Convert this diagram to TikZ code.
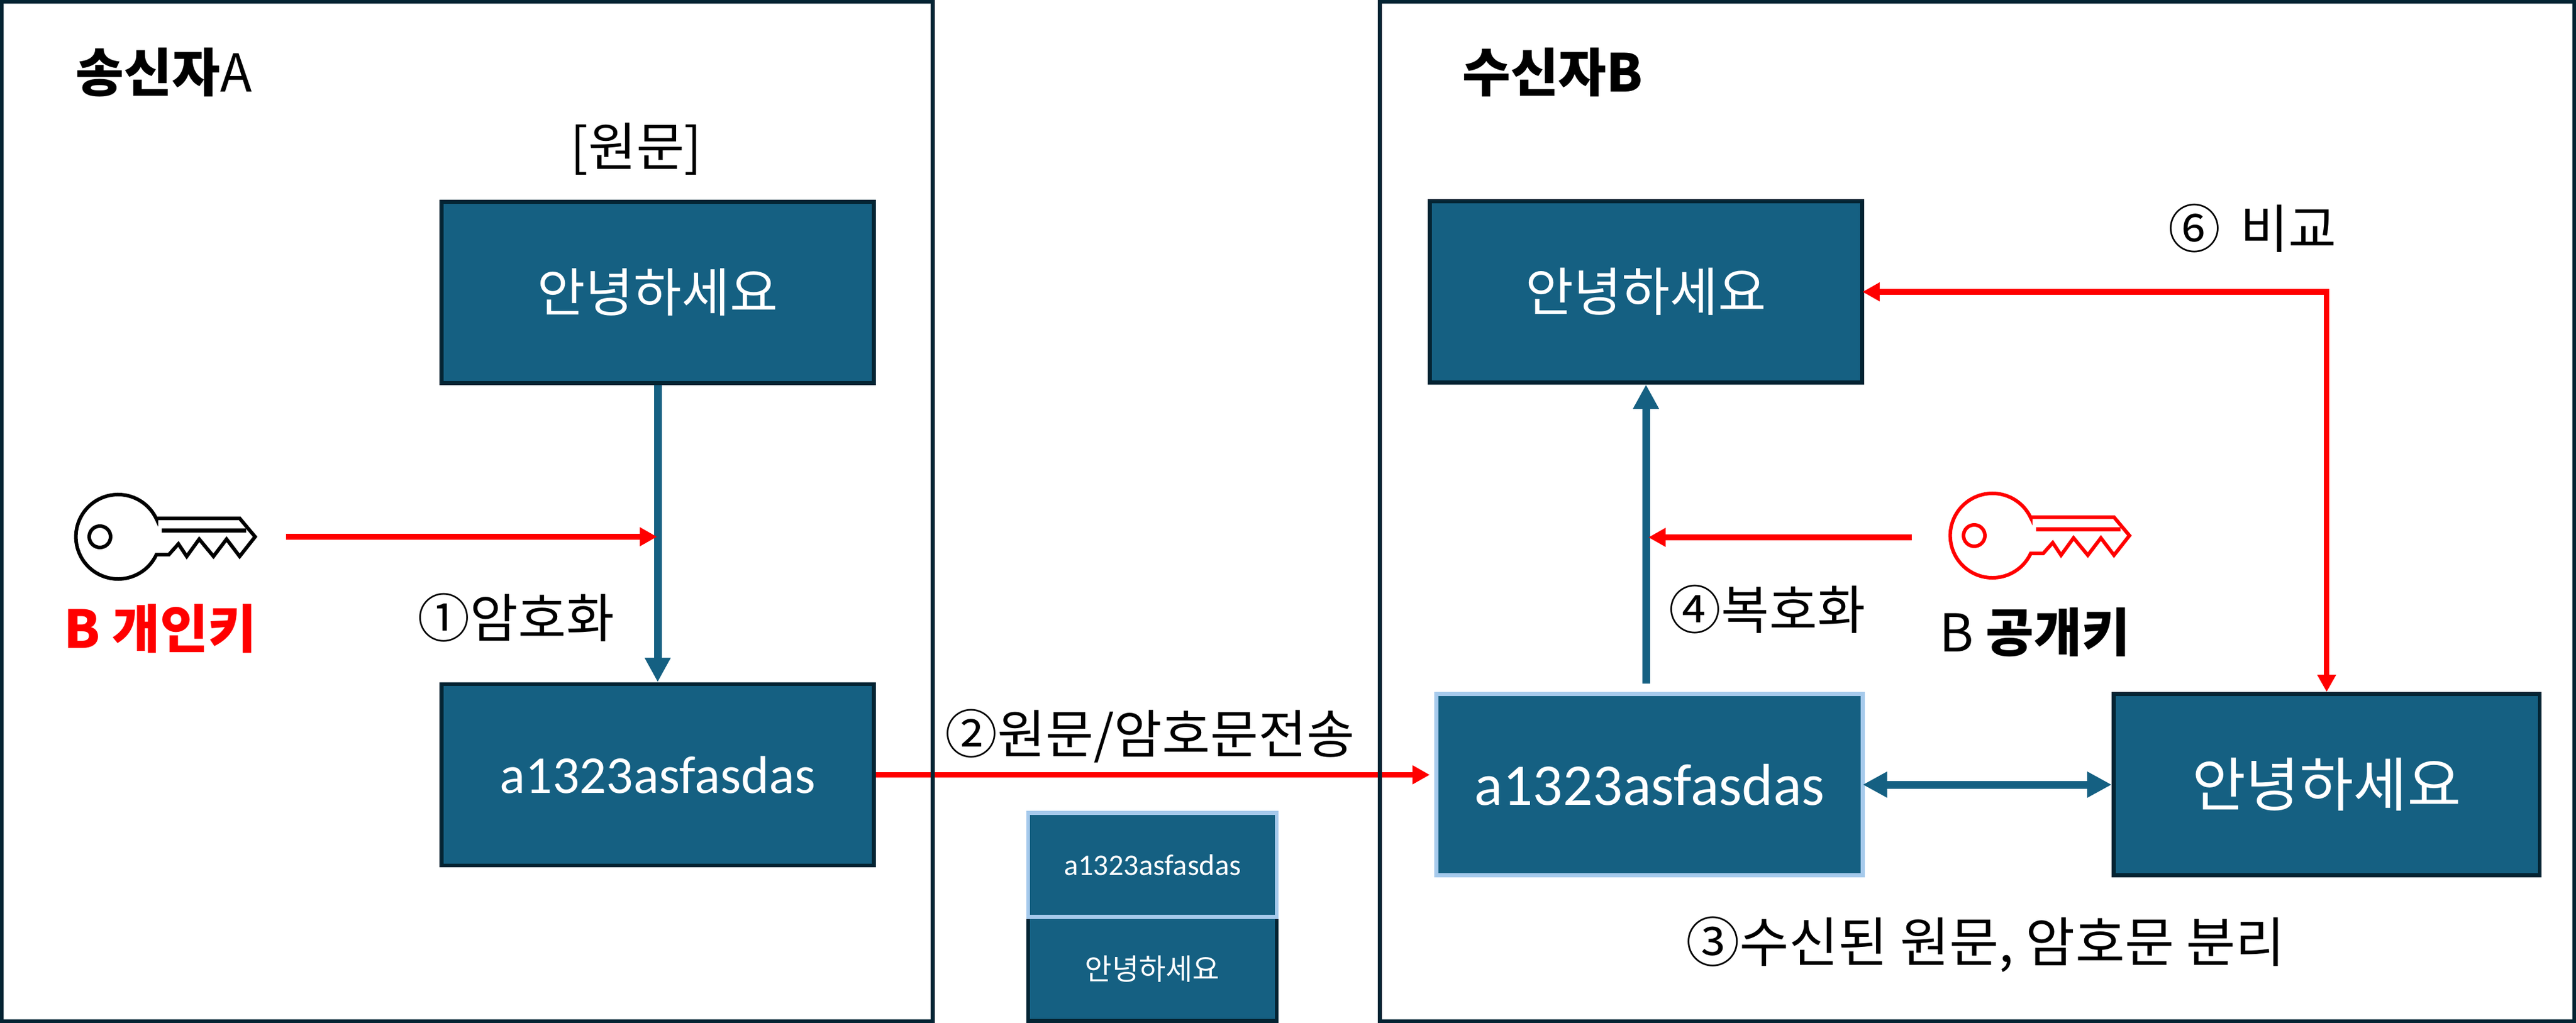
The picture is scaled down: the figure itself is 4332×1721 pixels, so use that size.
\documentclass[tikz,border=0pt]{standalone}
\usepackage{fontspec}
\setmainfont{Noto Sans CJK KR}
\newfontfamily\cipherfont{Carlito}
\usetikzlibrary{arrows.meta}
\definecolor{boxfill}{HTML}{156082}
\definecolor{boxline}{HTML}{042433}
\definecolor{boxlight}{HTML}{A6CAEC}
\tikzset{
  msgbox/.style = {draw=boxline, fill=boxfill, text=white, line width=0.067cm, minimum width=7.27cm, minimum height=3.05cm, inner sep=0pt, font=\fontsize{25}{30}\selectfont},
  lightbox/.style = {msgbox, draw=boxlight},
  bigtext/.style = {font=\fontsize{28}{34}\selectfont, minimum width=7.16cm},
  smalltext/.style = {font=\fontsize{14}{17}\selectfont, minimum width=4.18cm, minimum height=1.75cm},
  frame/.style = {draw=boxline, line width=0.067cm, inner sep=0pt},
  label/.style = {inner sep=0pt, font=\fontsize{25}{30}\selectfont},
  redline/.style = {red, line width=0.095cm, -{Triangle[length=0.29cm, width=0.3cm]}},
  tealline/.style = {boxfill, line width=0.13cm, -{Triangle[length=0.41cm, width=0.41cm]}},
  keyicon/.pic = {
    \draw[line width=0.06cm, miter limit=10] (63,-31) -- (203,-31) -- (229,0) -- (203,33) -- (181,4) -- (159,33) -- (135,4) -- (114,33) -- (100,12) -- (84,30) -- (63,30) arc[start angle=25, end angle=335, radius=71] -- cycle;
    \draw[line width=0.07cm] (72,-11) -- (214,-11);
    \draw[line width=0.06cm] (-32,0) circle[radius=18];
  }
}
\begin{document}
\begin{tikzpicture}[x=0.01cm, y=-0.01cm, node distance=8.11cm]
  \useasboundingbox (0,0) rectangle (4332,1721);
  % boxes
  \node[msgbox] (plainA) at (1106,492) {안녕하세요};
  \node[msgbox] (cipherA) [below of = plainA] {\fontsize{25.5}{30}\cipherfont a1323asfasdas};
  \node[msgbox] (plainB) at (2768,491) {안녕하세요};
  \node[lightbox, bigtext] (cipherB) at (2774,1320) {\fontsize{28.3}{34}\cipherfont a1323asfasdas};
  \node[msgbox, bigtext] (sepB) [right of = cipherB, node distance=11.38cm] {안녕하세요};
  \node[msgbox, smalltext] (sentplain) at (1938,1630) {안녕하세요};
  \node[lightbox, smalltext] (sentcipher) at (1938,1455) {\fontsize{14.3}{17}\cipherfont a1323asfasdas};

  % keys
  \pic (keyA) at (200,903) {keyicon};
  \pic[red] (keyB) at (3352,901) {keyicon};

  \coordinate (keyAout) at (481,903);
  \coordinate (encin) at (1105,903);
  \coordinate (keyBout) at (3215,904);
  \coordinate (decin) at (2772,904);
  \coordinate (cipherBtop) at (2768,1150);

  % connectors
  \draw[tealline] (plainA) -- (cipherA);
  \draw[redline] (keyAout) -- (encin);
  \draw[redline, shorten >=0.08cm] (cipherA.east) -- (cipherA.east -| cipherB.west);
  \draw[tealline] (cipherBtop) -- (plainB);
  \draw[redline] (keyBout) -- (decin);
  \draw[tealline, {Triangle[length=0.41cm, width=0.41cm]}-{Triangle[length=0.41cm, width=0.41cm]}, shorten <=-0.03cm] (cipherB) -- (sepB);
  \draw[redline, {Triangle[length=0.29cm, width=0.3cm]}-{Triangle[length=0.29cm, width=0.3cm]}, shorten <=-0.03cm] (plainB) -| (sepB);

  % frames
  \node[frame, minimum width=15.65cm, minimum height=17.15cm] (sender) at (785.5,860.5) {};
  \node[frame, minimum width=20.08cm, minimum height=17.15cm] (receiver) at (3325,860.5) {};

  % texts
  \node[label] (senderlabel) at (276,122) {\textbf{송신자}A};
  \node[label] (receiverlabel) at (2611,122) {\textbf{수신자B}};
  \node[label] (plainlabel) at (1070,251) {[원문]};
  \node[label, red, font=\fontsize{25}{30}\selectfont\bfseries] (keyAlabel) at (269,1058) {B 개인키};
  \node[label] (keyBlabel) at (3422,1064) {B \textbf{공개키}};
  \node[label] (step1) at (868,1039) {①암호화};
  \node[label] (step2) at (1934,1238) {②원문/암호문전송};
  \node[label, font=\fontsize{25.7}{30}\selectfont] (step3) at (3339,1589) {③수신된 원문, 암호문 분리};
  \node[label] (step4) at (2972,1025) {④복호화};
  \node[label] (step6) at (3788,384) {⑥\hspace{0.13cm} 비교};
\end{tikzpicture}
\end{document}
